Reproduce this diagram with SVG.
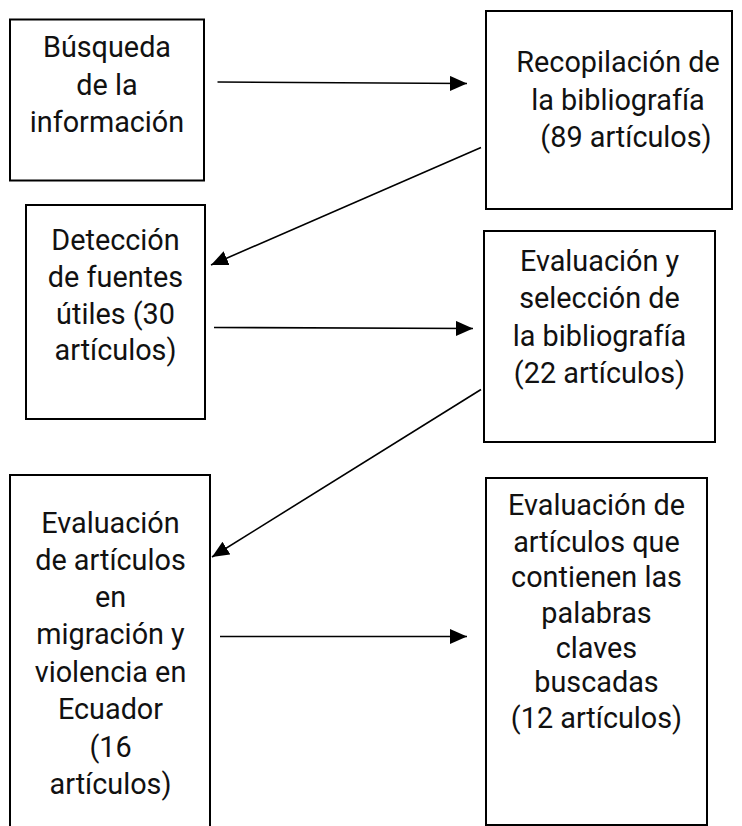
<svg xmlns="http://www.w3.org/2000/svg" width="742" height="826" viewBox="0 0 742 826">
<style>
.box{fill:#fff;stroke:#000;stroke-width:2}
.t{font-family:Roboto,"Liberation Sans",sans-serif;font-size:28.8px;fill:#111;text-anchor:middle}
.c{stroke:#000;stroke-width:1.6;fill:none;marker-end:url(#ah)}
</style>
<defs>
<marker id="ah" markerUnits="userSpaceOnUse" markerWidth="18" markerHeight="16" refX="17" refY="7.5" orient="auto" viewBox="0 0 18 16">
<path d="M0,0 L17,7.5 L0,15 z" fill="#000"/>
</marker>
</defs>
<rect width="742" height="826" fill="#fff"/>
<g id="n1">
<rect class="box" x="10" y="19.5" width="194" height="161"/>
<text class="t"><tspan x="107" y="57">Búsqueda</tspan><tspan x="107" y="94.5">de la</tspan><tspan x="107" y="132">información</tspan></text>
</g>
<g id="n2">
<rect class="box" x="486" y="11" width="246" height="198"/>
<text class="t"><tspan x="618" y="72">Recopilación de</tspan><tspan x="618" y="110">la bibliografía</tspan><tspan x="626" y="147">(89 artículos)</tspan></text>
</g>
<g id="n3">
<rect class="box" x="26" y="205" width="179" height="214"/>
<text class="t"><tspan x="115.5" y="250">Detección</tspan><tspan x="115.5" y="287">de fuentes</tspan><tspan x="115.5" y="323.5">útiles (30</tspan><tspan x="115.5" y="360">artículos)</tspan></text>
</g>
<g id="n4">
<rect class="box" x="484" y="231" width="231" height="211"/>
<text class="t"><tspan x="599.5" y="271">Evaluación y</tspan><tspan x="599.5" y="308">selección de</tspan><tspan x="599.5" y="345.5">la bibliografía</tspan><tspan x="599.5" y="383">(22 artículos)</tspan></text>
</g>
<g id="n5">
<rect class="box" x="10" y="475" width="200" height="370"/>
<text class="t"><tspan x="110.5" y="533">Evaluación</tspan><tspan x="110.5" y="570">de artículos</tspan><tspan x="110.5" y="607">en</tspan><tspan x="110.5" y="644">migración y</tspan><tspan x="110.5" y="681.5">violencia en</tspan><tspan x="110.5" y="719">Ecuador</tspan><tspan x="110.5" y="756.5">(16</tspan><tspan x="110.5" y="793.5">artículos)</tspan></text>
</g>
<g id="n6">
<rect class="box" x="486" y="478" width="221" height="347"/>
<text class="t"><tspan x="596.5" y="515">Evaluación de</tspan><tspan x="596.5" y="551.5">artículos que</tspan><tspan x="596.5" y="587">contienen las</tspan><tspan x="596.5" y="623">palabras</tspan><tspan x="596.5" y="658">claves</tspan><tspan x="596.5" y="692">buscadas</tspan><tspan x="596.5" y="728">(12 artículos)</tspan></text>
</g>
<g id="connectors">
<line class="c" x1="217.5" y1="82" x2="467" y2="83.5"/>
<line class="c" x1="481" y1="147.5" x2="211" y2="265"/>
<line class="c" x1="214" y1="327.5" x2="473" y2="328.5"/>
<line class="c" x1="481" y1="389.5" x2="212" y2="557"/>
<line class="c" x1="220" y1="636.5" x2="467" y2="636.5"/>
</g>
</svg>
